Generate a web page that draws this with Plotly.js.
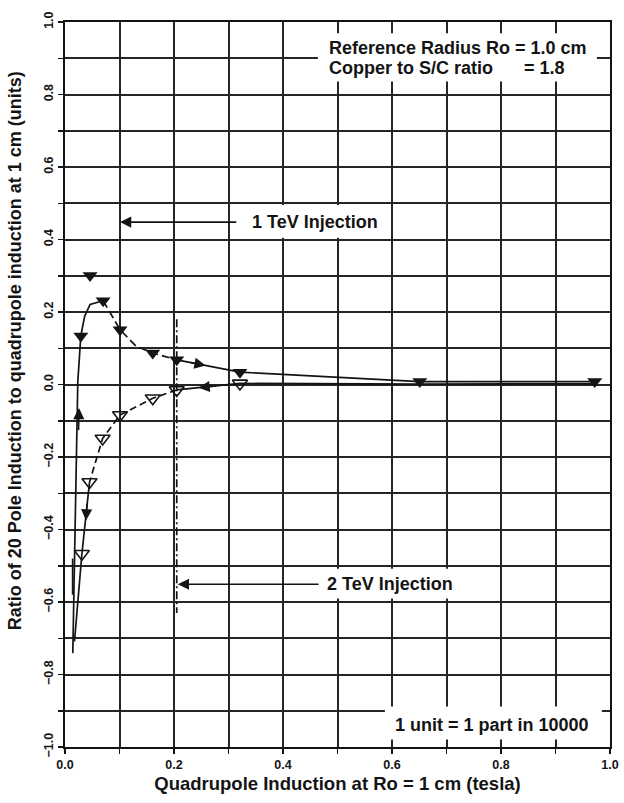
<!DOCTYPE html>
<html>
<head>
<meta charset="utf-8">
<script src="https://cdn.plot.ly/plotly-3.0.1.min.js"></script>
<style>html,body{margin:0;padding:0;background:#fff;}#chart{width:624px;height:803px;}</style>
</head>
<body>
<div id="chart"></div>
<script>
// ---- data ----
// ramp-up branch markers (filled triangles)
const filledX = [0.029, 0.046, 0.070, 0.101, 0.161, 0.205, 0.321, 0.651, 0.972];
const filledY = [0.134, 0.301, 0.231, 0.151, 0.087, 0.068, 0.034, 0.008, 0.008];
// ramp-down branch markers (open triangles)
const openX = [0.321, 0.205, 0.161, 0.101, 0.069, 0.045, 0.031];
const openY = [0.003, -0.015, -0.038, -0.084, -0.149, -0.269, -0.467];

// curves
const riseX = [0.0143, 0.0235, 0.029, 0.036, 0.046, 0.055, 0.070];
const riseY = [-0.741, 0.008, 0.134, 0.188, 0.221, 0.225, 0.231];
const upDashX = [0.070, 0.101, 0.131, 0.161, 0.205];
const upDashY = [0.231, 0.151, 0.105, 0.087, 0.068];
const upSolidX = [0.205, 0.321, 0.651, 0.972];
const upSolidY = [0.068, 0.034, 0.008, 0.008];
const downSolidX = [0.972, 0.651, 0.321, 0.205];
const downSolidY = [0.002, 0.001, 0.003, -0.015];
const downDashX = [0.205, 0.161, 0.101, 0.069, 0.045];
const downDashY = [-0.015, -0.038, -0.084, -0.149, -0.269];
const downTailX = [0.045, 0.031, 0.0174];
const downTailY = [-0.269, -0.467, -0.709];
const strayX = [0.0140, 0.0140];
const strayY = [-0.48, -0.58];

// injection markers
const inj2X = [0.205, 0.205];
const inj2Y = [0.18, -0.63];

// ticks (grid every 0.1, labels every 0.2)
const xTickVals = [0, 0.1, 0.2, 0.3, 0.4, 0.5, 0.6, 0.7, 0.8, 0.9, 1.0];
const xTickText = ['0.0', '', '0.2', '', '0.4', '', '0.6', '', '0.8', '', '1.0'];
const yTickVals = [-1.0, -0.9, -0.8, -0.7, -0.6, -0.5, -0.4, -0.3, -0.2, -0.1, 0, 0.1, 0.2, 0.3, 0.4, 0.5, 0.6, 0.7, 0.8, 0.9, 1.0];
const yTickText = ['\u22121.0', '', '\u22120.8', '', '\u22120.6', '', '\u22120.4', '', '\u22120.2', '', '0.0', '', '0.2', '', '0.4', '', '0.6', '', '0.8', '', '1.0'];

const INK = '#141414';
const FONT = 'Liberation Sans, Arial, Helvetica, sans-serif';

function line(x, y, dash, w) {
  return {x: x, y: y, type: 'scatter', mode: 'lines', hoverinfo: 'skip',
          line: {color: INK, width: w || 1.7, dash: dash || 'solid'}};
}

const traces = [
  line(riseX, riseY),
  line(upDashX, upDashY, '8px,4px'),
  line(upSolidX, upSolidY),
  line(downSolidX, downSolidY),
  line(downDashX, downDashY, '7px,4px'),
  line(downTailX, downTailY),
  line(strayX, strayY),
  line(inj2X, inj2Y, '8px,3px,2px,3px', 1.7),
  {x: filledX, y: filledY, type: 'scatter', mode: 'markers',
   marker: {symbol: 'triangle-down', size: 13, color: INK, line: {width: 0}}},
  {x: openX, y: openY, type: 'scatter', mode: 'markers',
   marker: {symbol: 'triangle-down-open', size: 13, color: INK, line: {width: 1.6, color: INK}}}
];

function arrow(x, y, ax, ay) {
  return {x: x, y: y, ax: ax, ay: ay, xref: 'x', yref: 'y', axref: 'x', ayref: 'y',
          text: '', showarrow: true, arrowhead: 2, arrowsize: 1.4, arrowwidth: 1.6,
          arrowcolor: INK, standoff: 0, startstandoff: 0};
}
function label(text, x, y, anchor) {
  return {x: x, y: y, xref: 'x', yref: 'y', text: text, showarrow: false,
          xanchor: anchor || 'center', yanchor: 'middle',
          font: {family: FONT, size: 18, color: INK, weight: 'bold'}};
}

const annotations = [
  // flow arrows on the curves
  arrow(0.0257, -0.065, 0.0248, -0.13),
  arrow(0.258, 0.0525, 0.228, 0.0613),
  arrow(0.245, -0.0088, 0.280, -0.0034),
  arrow(0.0385, -0.375, 0.0405, -0.325),
  // injection arrows
  arrow(0.101, 0.448, 0.317, 0.448),
  arrow(0.207, -0.551, 0.468, -0.551),
  // labels
  label('1 TeV Injection', 0.339, 0.448, 'left'),
  label('2 TeV Injection', 0.477, -0.551, 'left'),
  label('1 unit = 1 part in 10000', 0.602, -0.939, 'left'),
  label('Reference Radius Ro = 1.0 cm', 0.481, 0.928, 'left'),
  label('Copper to S/C ratio', 0.481, 0.873, 'left'),
  label('= 1.8', 0.838, 0.873, 'left'),
  // y-axis title
  {x: -0.0917, y: 0.546, xref: 'paper', yref: 'paper', text: 'Ratio of 20 Pole Induction to quadrupole induction at 1 cm (units)',
   textangle: -90, showarrow: false, xanchor: 'center', yanchor: 'middle',
   font: {family: FONT, size: 18, color: INK, weight: 'bold'}}
];

function box(x0, x1, y0, y1) {
  return {type: 'rect', xref: 'x', yref: 'y', x0: x0, x1: x1, y0: y0, y1: y1,
          fillcolor: '#ffffff', line: {width: 0}, layer: 'above'};
}
const shapes = [
  box(0.464, 0.976, 0.836, 0.969),
  box(0.335, 0.585, 0.405, 0.495),
  box(0.472, 0.745, -0.59, -0.508),
  box(0.587, 0.985, -0.979, -0.888)
];

const axisCommon = {
  showline: true, linecolor: INK, linewidth: 2, mirror: true, zeroline: false,
  showgrid: true, gridcolor: '#262626', gridwidth: 2,
  ticks: 'outside', ticklen: 5, tickwidth: 1.5, tickcolor: INK,
  tickfont: {family: FONT, size: 12.5, color: INK, weight: 'bold'}
};

const layout = {
  width: 624, height: 803,
  margin: {l: 65, r: 14, t: 22, b: 56},
  paper_bgcolor: '#ffffff', plot_bgcolor: '#ffffff',
  showlegend: false,
  font: {family: FONT, color: INK},
  xaxis: Object.assign({}, axisCommon, {
    range: [0, 1], tickmode: 'array', tickvals: xTickVals, ticktext: xTickText,
    title: {text: 'Quadrupole Induction at Ro = 1 cm (tesla)', standoff: 6,
            font: {family: FONT, size: 18.5, color: INK, weight: 'bold'}}
  }),
  yaxis: Object.assign({}, axisCommon, {
    range: [-1, 1], tickmode: 'array', tickvals: yTickVals, ticktext: yTickText,
    tickangle: -90
  }),
  annotations: annotations,
  shapes: shapes
};

Plotly.newPlot('chart', traces, layout, {displayModeBar: false, staticPlot: true});
</script>
</body>
</html>
